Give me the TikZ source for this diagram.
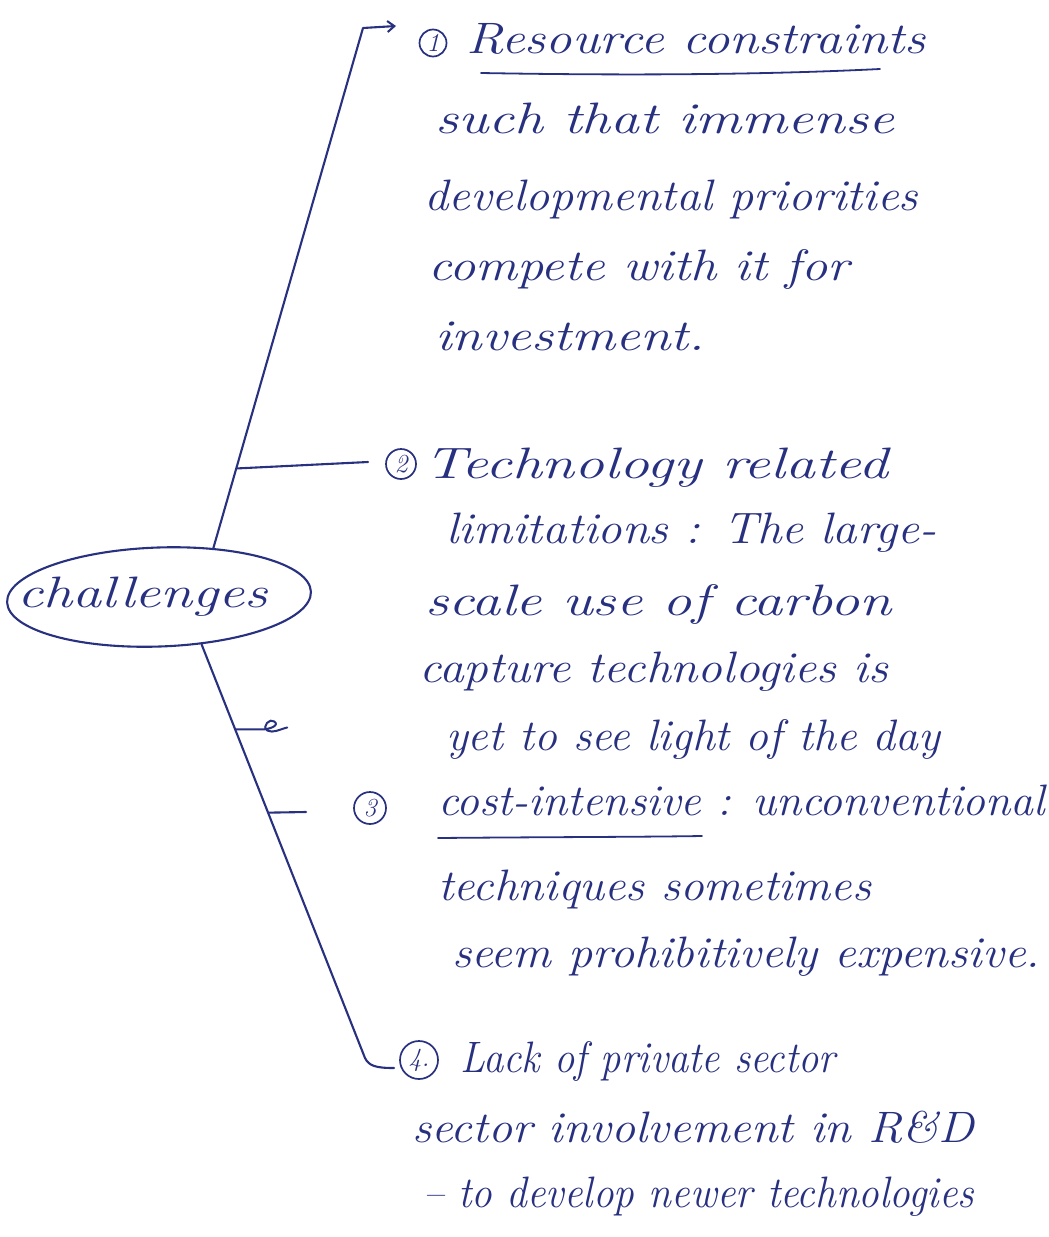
\documentclass[tikz,border=0pt]{standalone}
\usepackage{fontspec}
\usepackage{graphicx}
\usetikzlibrary{shapes.geometric,arrows.meta,calc}
\definecolor{inkc}{RGB}{40,48,128}
\newcommand{\handfont}{\fontsize{44}{50}\selectfont\itshape}
\newcommand{\numfont}{\fontsize{26}{28}\selectfont\itshape}
% a handwritten line: stretched horizontally to a given width, height kept
\newcommand{\hw}[2]{\resizebox{#1pt}{\height}{#2}}
\begin{document}
\begin{tikzpicture}[x=1pt,y=-1pt,
  ink/.style={draw=inkc,line width=2.1pt,line cap=round,line join=round},
  txt/.style={inner sep=0pt,anchor=base west,text=inkc,font=\handfont},
  num/.style={circle,draw=inkc,line width=1.7pt,inner sep=0pt,minimum size=#1,text=inkc,font=\numfont},
  hub/.style={ellipse,draw=inkc,line width=2.1pt,inner sep=0pt,minimum width=304pt,minimum height=99pt,rotate=2}]
\fill[white] (0,0) rectangle (1049,1237);
\useasboundingbox (0,0) rectangle (1049,1237);

% central topic: outline and its word
\node[hub] (ch) at (159,597) {};
\node[txt] (chl) at (17,607) {\hw{251}{challenges}};

% circled item numbers
\node[num=27pt] (n1) at (433,43) {1};
\node[num=30pt] (n2) at (401,464) {2};
\node[num=32pt] (n3) at (370,808) {3};
\node[num=38pt] (n4) at (419,1060) {4.};

% item 1
\node[txt] (r1) at (466,53)  {\hw{459}{Resource constraints}};
\node[txt] (r2) at (435,133) {\hw{459}{such that immense}};
\node[txt] (r3) at (424,210) {\hw{494}{developmental priorities}};
\node[txt] (r4) at (428,280) {\hw{421}{compete with it for}};
\node[txt] (r5) at (435,350) {\hw{270}{investment.}};

% item 2
\node[txt] (t1) at (424,478) {\hw{464}{Technology related}};
\node[txt] (t2) at (446,543) {\hw{490}{limitations : The large-}};
\node[txt] (t3) at (425,615) {\hw{466}{scale use of carbon}};
\node[txt] (t4) at (419,682) {\hw{469}{capture technologies is}};
\node[txt] (t5) at (446,750) {\hw{494}{yet to see light of the day}};

% item 3
\node[txt] (c1) at (438,815) {\hw{607}{cost-intensive : unconventional}};
\node[txt] (c2) at (438,900) {\hw{433}{techniques sometimes}};
\node[txt] (c3) at (452,967) {\hw{588}{seem prohibitively expensive.}};

% item 4
\node[txt] (f1) at (460,1072) {\hw{375}{Lack of private sector}};
\node[txt] (f2) at (412,1142) {\hw{562}{sector involvement in R\&D}};
\node[txt] (f3) at (423,1207) {\hw{551}{-- to develop newer technologies}};

% underlines
\draw[ink,line width=1.8pt] (481,73) .. controls (650,76) and (780,74) .. (880,69);
\draw[ink,line width=1.8pt] (438,838) .. controls (550,837) and (640,837) .. (702,836);

% upper trunk with arrow to item 1
\coordinate (topc) at (363,28);
\coordinate (a1) at (396,26);
\draw[ink,-{Straight Barb[length=7pt,width=11pt,line width=2pt]}] (ch.40) -- (topc) -- (a1);

% branch to item 2
\coordinate (e2) at (368,462);
\draw[ink] ($(ch.40)!0.153!(topc)$) -- (e2);

% lower trunk bending into item 4
\coordinate (bot) at (365,1058);
\coordinate (e4) at (394,1068);
\draw[ink] (ch.-50) -- (bot) .. controls (369,1066) and (376,1068) .. (e4);

% small mark on the lower trunk
\draw[ink,line width=2pt] ($(ch.-50)!0.206!(bot)$) -- ++(26,0)
  .. controls +(8,0) and +(6,4) .. ++(13,-8)
  .. controls +(-4,-4) and +(-6,-4) .. ++(-7,9)
  .. controls +(6,3) and +(-8,2) .. ++(20,-3);

% branch to item 3
\coordinate (e3) at (306,812);
\draw[ink] ($(ch.-50)!0.407!(bot)$) -- (e3);
\end{tikzpicture}
\end{document}
